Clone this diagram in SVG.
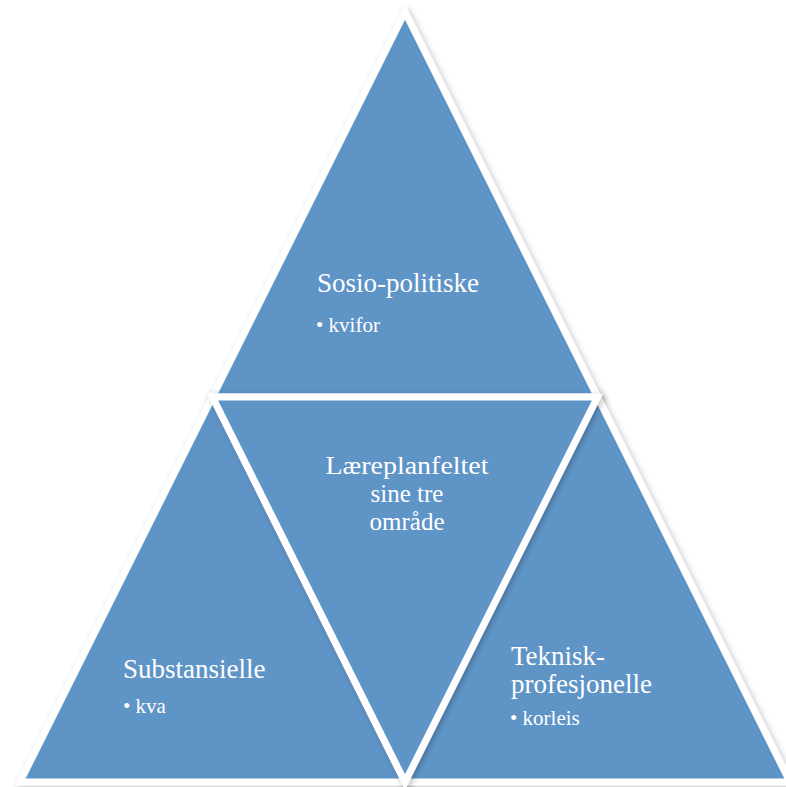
<svg xmlns="http://www.w3.org/2000/svg" width="786" height="787" viewBox="0 0 786 787">
  <defs>
    <filter id="softShadow" x="-10%" y="-10%" width="120%" height="120%">
      <feGaussianBlur in="SourceAlpha" stdDeviation="3"/>
      <feOffset dx="2" dy="2" result="blur"/>
      <feComponentTransfer><feFuncA type="linear" slope="0.25"/></feComponentTransfer>
      <feMerge><feMergeNode/><feMergeNode in="SourceGraphic"/></feMerge>
    </filter>
  </defs>
  <style>
    .tri { fill: #5f94c7; stroke: #ffffff; stroke-width: 7; stroke-linejoin: miter; stroke-miterlimit: 10; filter: url(#softShadow); }
    .head { font-family: "Liberation Serif", "DejaVu Serif", serif; font-size: 27px; fill: #ffffff; }
    .mid { font-family: "Liberation Serif", "DejaVu Serif", serif; font-size: 25px; fill: #ffffff; text-anchor: middle; }
    .item { font-family: "Liberation Serif", "DejaVu Serif", serif; font-size: 21px; fill: #ffffff; }
  </style>
  <rect width="786" height="787" fill="#ffffff"/>

  <g id="socio-political">
    <polygon class="tri" points="405,12 212.5,397 597.5,397"/>
    <text class="head" x="317" y="292">Sosio-politiske</text>
    <text class="item" x="316" y="332">• kvifor</text>
  </g>

  <g id="substantial">
    <polygon class="tri" points="212.5,397 20,782 405,782"/>
    <text class="head" x="123" y="678">Substansielle</text>
    <text class="item" x="123" y="713">• kva</text>
  </g>

  <g id="technical-professional">
    <polygon class="tri" points="597.5,397 405,782 790,782"/>
    <text class="head" x="511" y="665">Teknisk-</text>
    <text class="head" x="511" y="693">profesjonelle</text>
    <text class="item" x="510" y="725">• korleis</text>
  </g>

  <g id="curriculum-field">
    <polygon class="tri" points="212.5,397 597.5,397 405,782"/>
    <text class="mid" x="407" y="474" textLength="163" lengthAdjust="spacingAndGlyphs">Læreplanfeltet</text>
    <text class="mid" x="407" y="502">sine tre</text>
    <text class="mid" x="407" y="530">område</text>
  </g>

  <g id="connectors"/>
</svg>
